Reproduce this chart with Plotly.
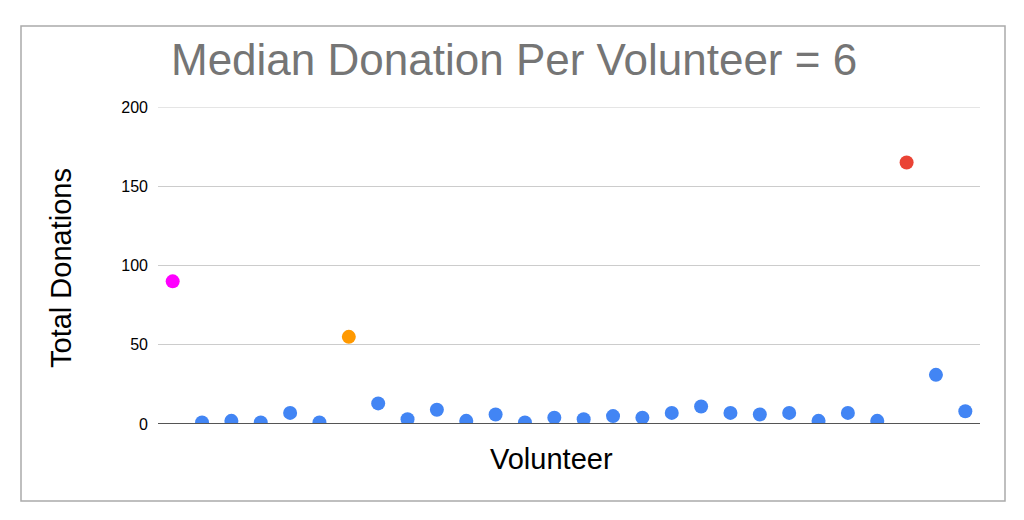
import plotly.graph_objects as go

volunteers = [f"V{i+1}" for i in range(28)]
donations = [90, 1, 2, 1, 7, 1, 55, 13, 3, 9, 2, 6, 1, 4, 3, 5, 4, 7, 11, 7, 6, 7, 2, 7, 2, 165, 31, 8]
colors = ["#FF00FF", "#4285F4", "#4285F4", "#4285F4", "#4285F4", "#4285F4", "#FF9900",
          "#4285F4", "#4285F4", "#4285F4", "#4285F4", "#4285F4", "#4285F4", "#4285F4",
          "#4285F4", "#4285F4", "#4285F4", "#4285F4", "#4285F4", "#4285F4", "#4285F4",
          "#4285F4", "#4285F4", "#4285F4", "#4285F4", "#EA4335", "#4285F4", "#4285F4"]
y_ticks = [0, 50, 100, 150, 200]

# page body has an 8px margin in the browser
OFF = 8
W, H = 1016, 512
L, R, T, B = 150, 44, 99, 96
pw, ph = W - L - R, H - T - B

def px_x(x):
    return (x - OFF - L) / pw

def px_y(y):
    return (H - B - (y - OFF)) / ph

fig = go.Figure(go.Scatter(
    x=volunteers, y=donations, mode="markers",
    marker=dict(color=colors, size=14, line=dict(width=0)),
    cliponaxis=True, showlegend=False,
))

fig.update_layout(
    width=W, height=H,
    margin=dict(l=L, r=R, t=T, b=B),
    paper_bgcolor="white", plot_bgcolor="white",
    font=dict(family="Liberation Sans, Arial, sans-serif", color="#000000"),
    xaxis=dict(range=[-0.5, 27.5], showticklabels=False, showgrid=False,
               zeroline=False, showline=False, ticks=""),
    yaxis=dict(range=[0, 200], tickvals=y_ticks, showgrid=True, gridcolor="#cccccc",
               gridwidth=1, zeroline=False, showline=False, ticks="",
               tickfont=dict(size=16, color="#000000"), ticklabelstandoff=9),
    shapes=[
        dict(type="line", xref="paper", yref="y", x0=0, x1=1, y0=200, y1=200,
             line=dict(color="#cccccc", width=1), layer="below"),
        dict(type="line", xref="paper", yref="y", x0=0, x1=1, y0=0, y1=0,
             line=dict(color="#555555", width=2), layer="above"),
        dict(type="rect", xref="paper", yref="paper",
             x0=px_x(21), x1=px_x(1005), y0=px_y(501), y1=px_y(26),
             line=dict(color="#aaaaaa", width=1.5)),
    ],
    annotations=[
        dict(text="Median Donation Per Volunteer = 6", xref="paper", yref="paper",
             x=px_x(513.5), y=px_y(59), xanchor="center", yanchor="middle", showarrow=False,
             font=dict(size=44, color="#757575")),
        dict(text="Total Donations", xref="paper", yref="paper",
             x=px_x(61), y=px_y(268), xanchor="center", yanchor="middle", showarrow=False,
             textangle=-90, font=dict(size=29, color="#000000")),
        dict(text="Volunteer", xref="paper", yref="paper",
             x=px_x(551), y=px_y(459), xanchor="center", yanchor="middle", showarrow=False,
             font=dict(size=29, color="#000000")),
    ],
)

fig.write_html("out.html")
